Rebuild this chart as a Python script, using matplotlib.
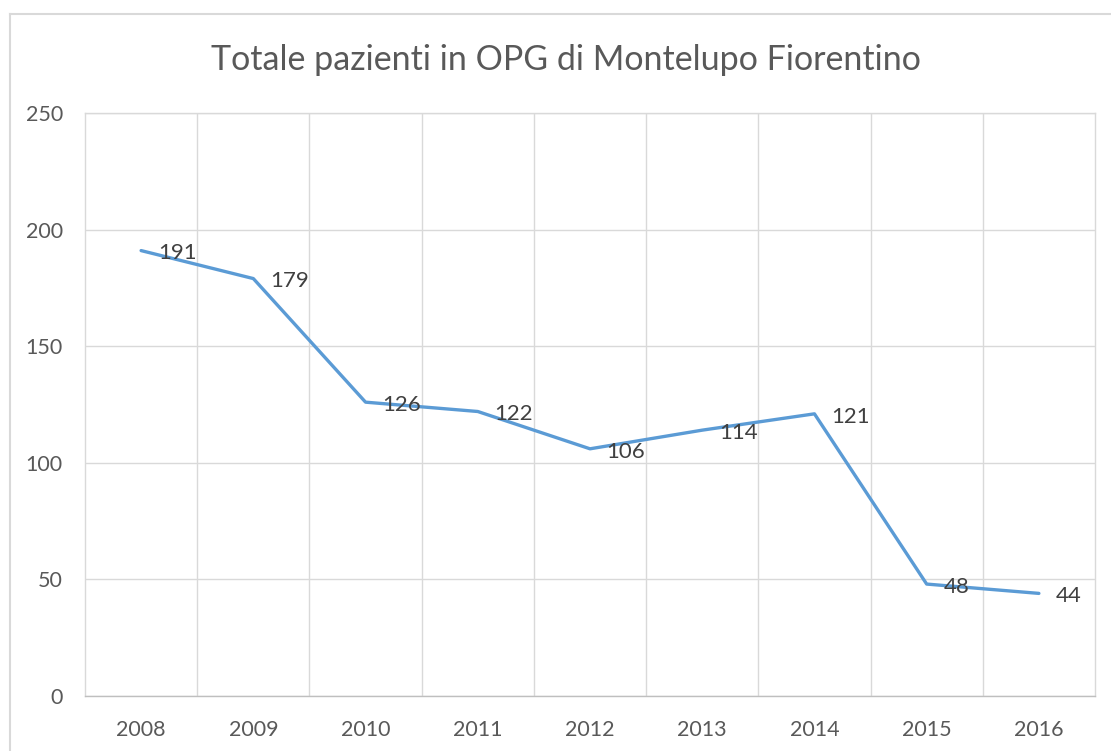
import matplotlib
matplotlib.use("Agg")
import matplotlib.pyplot as plt
from matplotlib.lines import Line2D

years = ["2008", "2009", "2010", "2011", "2012", "2013", "2014", "2015", "2016"]
patients = [191, 179, 126, 122, 106, 114, 121, 48, 44]
yticks = [0, 50, 100, 150, 200, 250]
title = "Totale pazienti in OPG di Montelupo Fiorentino"

plt.rcParams['font.family'] = ['Lato', 'DejaVu Sans']

W, H = 1111, 751
fig = plt.figure(figsize=(W / 100, H / 100), dpi=100)
ax = fig.add_axes([85 / W, 1 - 696 / H, (1095 - 85) / W, (696 - 113) / H])

x = list(range(len(years)))
ax.plot(x, patients, color="#5B9BD5", linewidth=2.4, solid_capstyle="round", zorder=3)
for xi, v in zip(x, patients):
    ax.annotate(str(v), (xi, v), xytext=(12, -2), textcoords="offset points",
                ha="left", va="center", fontsize=16, color="#404040", zorder=4)

ax.set_xlim(-0.5, len(years) - 0.5)
ax.set_ylim(0, 250)
ax.set_yticks(yticks)
ax.set_yticklabels([str(t) for t in yticks])
ax.set_xticks(x)
ax.set_xticklabels(years)
ax.set_xticks([i + 0.5 for i in range(len(years) - 1)], minor=True)
ax.grid(axis="y", which="major", color="#D9D9D9", linewidth=1.0)
ax.grid(axis="x", which="minor", color="#D9D9D9", linewidth=1.0)
ax.tick_params(axis="both", which="both", length=0, labelsize=15.5, colors="#595959")
ax.tick_params(axis="y", pad=16)
ax.tick_params(axis="x", pad=17)
ax.spines["top"].set_color("#D9D9D9")
ax.spines["left"].set_color("#D9D9D9")
ax.spines["right"].set_color("#D9D9D9")
ax.spines["bottom"].set_color("#BFBFBF")
for s in ax.spines.values():
    s.set_linewidth(1.0)

fig.text(566 / W, 1 - 60 / H, title, ha="center", va="center", fontsize=24.5, color="#595959")

fig.add_artist(Line2D([9.5 / W, 9.5 / W], [0, 1 - 14 / H], transform=fig.transFigure,
                      color="#D9D9D9", linewidth=1.5))
fig.add_artist(Line2D([9.5 / W, 1], [1 - 14 / H, 1 - 14 / H], transform=fig.transFigure,
                      color="#D9D9D9", linewidth=1.5))

fig.savefig("out.png", dpi=100, facecolor="white")
